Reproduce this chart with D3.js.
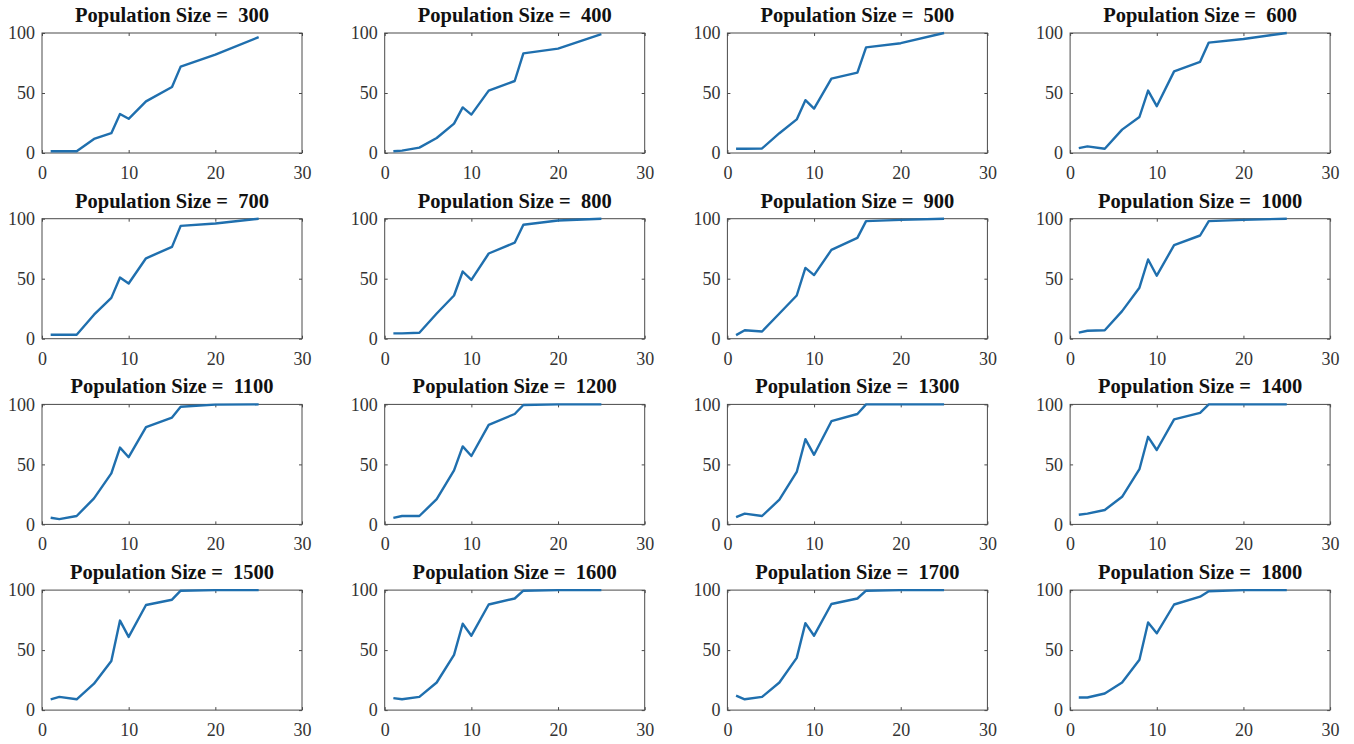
<!DOCTYPE html>
<html>
<head>
<meta charset="utf-8">
<script src="https://cdn.jsdelivr.net/npm/d3@7"></script>
<style>
  body { margin: 0; background: #fff; }
</style>
</head>
<body>
<svg id="chart" width="1354" height="744"></svg>
<script>
// generations on the x axis, shared by all panels
var generations = [1, 2, 4, 6, 8, 9, 10, 12, 15, 16, 20, 25];
var popSizes = [300, 400, 500, 600, 700, 800, 900, 1000, 1100, 1200, 1300, 1400, 1500, 1600, 1700, 1800];

// values
var rate300  = [1.4, 1.5, 1.5, 11.7, 16.5, 32.5, 28.5, 43, 55, 72, 82, 96.5];
var rate400  = [1.4, 2, 4.5, 12.5, 24.5, 38, 32, 52, 60, 83, 87, 99];
var rate500  = [3.5, 3.6, 3.8, 16.5, 28, 44, 37, 62, 67, 88, 91.5, 100];
var rate600  = [4, 5.5, 3.5, 19.5, 30, 52, 39, 68, 76, 92, 95, 100];
var rate700  = [3.3, 3.3, 3.3, 20, 34, 51, 46, 67, 76.5, 94, 96, 100];
var rate800  = [4.4, 4.4, 5, 21, 36, 56, 49, 71, 80, 95, 98.5, 100];
var rate900  = [3, 7, 6, 21, 36, 59, 53, 74, 84, 98, 99, 100];
var rate1000 = [5, 6.6, 7, 23, 42.5, 66, 52.5, 78, 86, 98, 99, 100];
var rate1100 = [5.5, 4.4, 7, 21.7, 42.5, 64, 56, 81, 89, 98, 99.8, 100];
var rate1200 = [5.5, 7, 7, 21, 45, 65, 57, 83, 92, 99.5, 100, 100];
var rate1300 = [6, 9, 7, 20.6, 43.7, 71, 58, 86, 92, 100, 100, 100];
var rate1400 = [8, 9, 12, 23, 46, 73, 62, 87.5, 93, 100, 100, 100];
var rate1500 = [9, 11, 9, 22, 41, 74.6, 61, 87.6, 92, 99.5, 100, 100];
var rate1600 = [10, 9, 11, 23, 46, 72, 62, 88, 93, 99.5, 100, 100];
var rate1700 = [12, 9, 11, 23, 43.5, 72.5, 62, 88.4, 93, 99.5, 100, 100];
var rate1800 = [10.5, 10.5, 13.8, 23, 42, 73, 64, 88, 94.5, 99, 100, 100];

var allRates = [rate300, rate400, rate500, rate600, rate700, rate800, rate900, rate1000,
                rate1100, rate1200, rate1300, rate1400, rate1500, rate1600, rate1700, rate1800];

var xTicks = [0, 10, 20, 30];
var yTicks = [0, 50, 100];

var svg = d3.select('#chart');

var panelW = 260, panelH = 120;
var firstLeft = 42, colStep = 342.7;
var firstTop = 33, rowStep = 185.7;
var lineColor = '#1f6fae';
var axisColor = '#4a4a4a';
var serif = '"Liberation Serif", "Times New Roman", serif';

var x = d3.scaleLinear().domain([0, 30]).range([0, panelW]);
var y = d3.scaleLinear().domain([0, 100]).range([panelH, 0]);

var line = d3.line()
    .x(function(d, i) { return x(generations[i]); })
    .y(function(d) { return y(d); });

function styleTicks(a) {
  a.attr('font-family', serif);
  a.select('.domain').remove();
  a.selectAll('line').attr('stroke', axisColor);
  a.selectAll('text').attr('fill', '#333').style('font-family', serif).style('font-size', '18px');
}

for (var p = 0; p < popSizes.length; p++) {
  var col = p % 4, row = Math.floor(p / 4);
  var g = svg.append('g')
      .attr('transform', 'translate(' + (firstLeft + col * colStep) + ',' + (firstTop + row * rowStep) + ')');

  // bottom axis with labels, ticks pointing inward
  g.append('g')
      .attr('transform', 'translate(0,' + panelH + ')')
      .call(d3.axisBottom(x).tickValues(xTicks).tickSizeInner(-3).tickSizeOuter(0).tickPadding(9))
      .call(styleTicks)
      .call(function(a) { a.selectAll('text').attr('dy', '0.95em'); });

  // left axis with labels
  g.append('g')
      .call(d3.axisLeft(y).tickValues(yTicks).tickSizeInner(-3).tickSizeOuter(0).tickPadding(7))
      .call(styleTicks);

  // mirrored ticks on top and right
  g.append('g')
      .call(d3.axisTop(x).tickValues(xTicks).tickSizeInner(-3).tickSizeOuter(0).tickFormat(''))
      .call(styleTicks);
  g.append('g')
      .attr('transform', 'translate(' + panelW + ',0)')
      .call(d3.axisRight(y).tickValues(yTicks).tickSizeInner(-3).tickSizeOuter(0).tickFormat(''))
      .call(styleTicks);

  g.append('rect')
      .attr('width', panelW)
      .attr('height', panelH)
      .attr('fill', 'none')
      .attr('stroke', axisColor)
      .attr('stroke-width', 1);

  g.append('path')
      .datum(allRates[p])
      .attr('d', line)
      .attr('fill', 'none')
      .attr('stroke', lineColor)
      .attr('stroke-width', 2.4)
      .attr('stroke-linejoin', 'round');

  g.append('text')
      .attr('x', panelW / 2)
      .attr('y', -11)
      .attr('text-anchor', 'middle')
      .style('font-family', serif)
      .style('font-size', '20.5px')
      .style('font-weight', 'bold')
      .style('white-space', 'pre')
      .attr('fill', '#111')
      .text('Population Size =  ' + popSizes[p]);
}
</script>
</body>
</html>
